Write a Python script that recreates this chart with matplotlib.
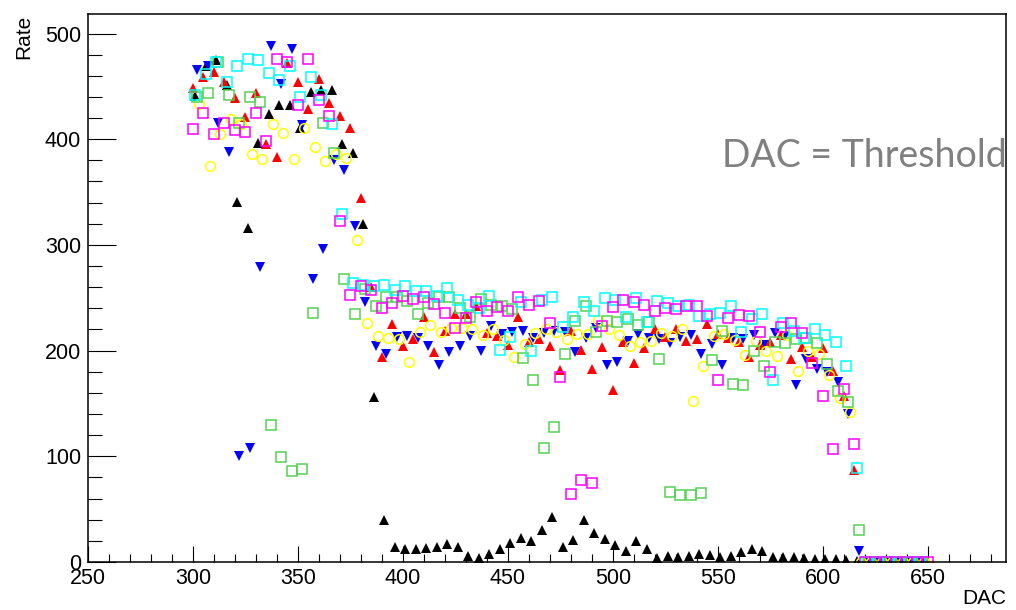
# plot.py: DAC scan of the rate for seven channels
import numpy as np
import matplotlib.pyplot as plt
from matplotlib.ticker import MultipleLocator

plt.rcParams['font.family'] = ['Liberation Sans', 'DejaVu Sans']

# scan step and first DAC value of each channel
step = 5
start_black, start_blue, start_red, start_yellow = 301, 302, 300, 303
start_green, start_cyan, start_magenta = 302, 301, 300

rate_black = [441, 469, 475, 451, 341, 316, 396, 424, 432, 432, 411, 445, 447, 447, 395, 387,
              320, 156, 40, 14, 12, 12, 13, 14, 17, 14, 6, 4, 8, 12, 18, 23, 20, 30, 43, 14,
              21, 40, 27, 22, 16, 10, 20, 12, 4, 6, 5, 6, 8, 7, 5, 6, 9, 12, 10, 5, 5, 5, 4,
              2.5, 2.5, 3, 2, 1, 0, 0, 0, 0, 0, 0]
rate_blue = [465, 469, 415, 388, 100, 108, 279, 488, 452, 485, 413, 268, 296, 380, 371, 318,
             246, 204, 197, 213, 214, 212, 204, 186, 199, 204, 214, 200, 223, 216, 218, 219,
             212, 217, 219, 218, 199, 212, 221, 186, 189, 209, 216, 212, 211, 207, 213, 215,
             197, 206, 186, 212, 211, 215, 205, 217, 214, 167, 192, 183, 180, 170, 140, 10,
             0, 0, 0, 0, 0, 0]
rate_red = [448, 459, 464, 454, 439, 421, 444, 395, 383, 472, 454, 429, 457, 434, 422, 411,
            344, 260, 194, 225, 204, 211, 232, 199, 219, 235, 235, 242, 217, 214, 205, 232,
            208, 211, 204, 182, 219, 201, 183, 203, 163, 208, 188, 202, 220, 213, 220, 209,
            211, 225, 216, 212, 208, 194, 205, 208, 215, 192, 203, 194, 202, 181, 157, 87,
            0, 0, 0, 0, 0, 0, 0]
rate_yellow = [433, 375, 405, 419, 414, 386, 381, 414, 406, 381, 411, 393, 379, 386, 382, 305,
               226, 214, 212, 211, 189, 218, 224, 218, 221, 221, 220, 215, 220, 210, 194, 206,
               217, 220, 218, 211, 216, 216, 229, 220, 215, 204, 208, 209, 217, 214, 220, 152,
               185, 214, 216, 210, 196, 209, 200, 195, 215, 181, 200, 197, 177, 155, 142,
               0, 0, 0, 0, 0, 0, 0]
rate_green = [440, 444, 473, 442, 415, 440, 435, 130, 99, 86, 88, 236, 415, 387, 268, 235,
              258, 242, 251, 251, 247, 235, 245, 251, 251, 240, 232, 249, 243, 242, 239, 193,
              172, 108, 128, 197, 228, 242, 218, 228, 227, 230, 224, 227, 192, 66, 63, 63, 65,
              191, 219, 168, 167, 200, 185, 208, 207, 211, 212, 207, 187, 162, 151, 30,
              0, 0, 0, 0, 0, 0]
rate_cyan = [442, 462, 473, 454, 469, 476, 475, 463, 456, 469, 440, 459, 442, 414, 329, 264,
             262, 261, 262, 257, 261, 256, 256, 252, 259, 248, 243, 240, 252, 201, 213, 246,
             200, 248, 251, 222, 232, 246, 237, 250, 248, 232, 250, 227, 247, 245, 242, 243,
             233, 235, 236, 242, 218, 230, 235, 172, 226, 219, 212, 220, 215, 208, 185, 89,
             0, 0, 0, 0, 0, 0]
rate_magenta = [410, 425, 405, 415, 409, 407, 425, 398, 476, 473, 432, 476, 437, 422, 323, 253,
                261, 257, 240, 245, 252, 249, 251, 244, 236, 221, 231, 246, 237, 241, 237, 251,
                243, 247, 226, 175, 64, 78, 75, 223, 241, 248, 246, 243, 237, 240, 239, 242,
                242, 233, 172, 231, 234, 233, 218, 180, 222, 226, 217, 188, 157, 107, 164, 112,
                0, 0, 0, 0, 0, 0, 0]

# (start, values, marker, colour, filled)
channels = [
    (start_black, rate_black, '^', 'black', True),
    (start_blue, rate_blue, 'v', '#0000ff', True),
    (start_red, rate_red, '^', '#ff0000', True),
    (start_yellow, rate_yellow, 'o', '#ffff00', False),
    (start_green, rate_green, 's', '#55d255', False),
    (start_cyan, rate_cyan, 's', '#00ffff', False),
    (start_magenta, rate_magenta, 's', '#ff00ff', False),
]

fig = plt.figure(figsize=(10.16, 6.10), dpi=100)
ax = fig.add_axes([88 / 1016, 48 / 610, 918 / 1016, 548.5 / 610])

for start, vals, mk, col, filled in channels:
    x = start + step * np.arange(len(vals))
    if filled:
        ax.plot(x, vals, mk, color=col, ms=7, mew=0, ls='none')
    else:
        ax.plot(x, vals, mk, mfc='none', mec=col, ms=6.5 if mk == 's' else 7, mew=1.1, ls='none')

ax.set_xlim(250, 250 + 918 / 2.1)
ax.set_ylim(0, 548.5 / 1.057)

ax.xaxis.set_major_locator(MultipleLocator(50))
ax.xaxis.set_minor_locator(MultipleLocator(10))
ax.yaxis.set_major_locator(MultipleLocator(100))
ax.yaxis.set_minor_locator(MultipleLocator(20))
ax.tick_params(which='both', direction='in', top=False, right=False, labelsize=15.5, width=0.8)
ax.tick_params(axis='x', which='major', length=11.5, pad=4)
ax.tick_params(axis='x', which='minor', length=5.8)
ax.tick_params(axis='y', which='major', length=20, pad=5)
ax.tick_params(axis='y', which='minor', length=10)
for sp in ax.spines.values():
    sp.set_linewidth(1.1)

fig.text(1006 / 1016, 1 - 598 / 610, 'DAC', ha='right', va='center', fontsize=15)
fig.text(24 / 1016, 1 - 15 / 610, 'Rate', ha='center', va='top', rotation=90, fontsize=15)

fig.text(722 / 1016, 1 - 167 / 610, 'DAC = Threshold', ha='left', va='baseline',
         fontsize=27, color='#808080', family=['Lato', 'DejaVu Sans'])

fig.savefig('out.png', dpi=100)
